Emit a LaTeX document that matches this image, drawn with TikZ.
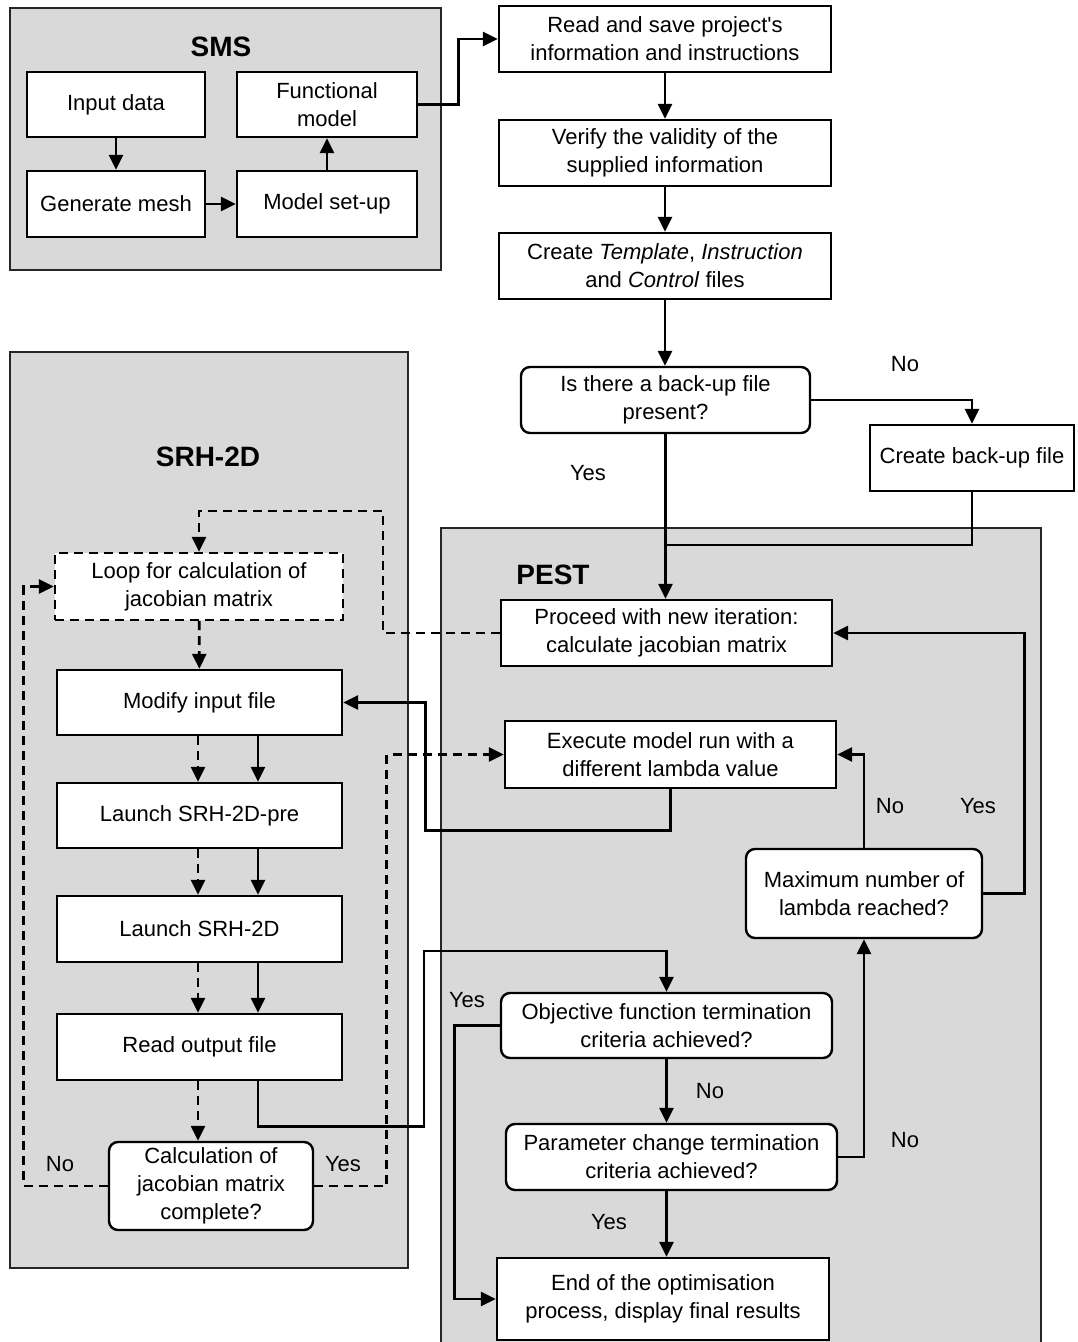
\documentclass[tikz,border=0pt]{standalone}
\usepackage{fontspec}
\setmainfont{Liberation Sans}
\usetikzlibrary{positioning,arrows.meta,shapes}
\tikzset {
    process/.style={
        fill=white,
        draw=black,
        line width=2.4pt,
        rectangle, % Set the shape as a rectangle
        inner sep=0pt,
        align=center,
    },
    decision/.style={
        process,
        rounded corners=9pt,
    },
    loopbox/.style={
        process,
        dash pattern=on 9pt off 6pt,
    },
    group/.style={
        fill=black!15,
        draw=black!85,
        line width=2.4pt,
    },
    title/.style={
        font=\fontsize{28}{32}\selectfont\bfseries,
    },
    flow/.style={
        draw=black,
        line width=2.8pt,
        -{Triangle[length=15pt,width=14pt]},
    },
    dashflow/.style={
        flow,
        dash pattern=on 9pt off 6pt,
    },
    link/.style={
        draw=black,
        line width=2.8pt,
    },
}
\begin{document}
\begin{tikzpicture}[x=1pt, y=-1pt, font=\fontsize{22}{28}\selectfont]
        \useasboundingbox (0,0) rectangle (1077,1342);

        % the three groups
        \draw[group] (10,8) rectangle (441,270);
        \draw[group] (10,352) rectangle (408,1268);
        \draw[group] (441,528) rectangle (1041,1350);
        \node[title] (smstitle) at (221,47) {SMS};
        \node[title] (srhtitle) at (208,457) {SRH-2D};
        \node[title] (pesttitle) at (553,575) {PEST};

        % SMS
        \node[process, minimum width=178pt, minimum height=65pt] (input) at (116,104.5) {Input data};
        \node[process, minimum width=180pt, minimum height=65pt] (func) at (327,104.5) {Functional\\model};
        \node[process, minimum width=178pt, minimum height=66pt] (mesh) at (116,204) {Generate mesh};
        \node[process, minimum width=180pt, minimum height=66pt] (setup) at (327,204) {Model set-up};

        % main column
        \node[process, minimum width=332pt, minimum height=66pt] (read) at (665,39) {Read and save project\textquotesingle s\\information and instructions};
        \node[process, minimum width=332pt, minimum height=66pt] (verify) at (665,153) {Verify the validity of the\\supplied information};
        \node[process, minimum width=332pt, minimum height=66pt] (create) at (665,266) {Create \textit{Template}, \textit{Instruction}\\and \textit{Control} files};
        \node[decision, minimum width=289pt, minimum height=66pt] (backup) at (665.5,400) {Is there a back-up file\\present?};
        \node[process, minimum width=204pt, minimum height=66pt] (mkbackup) at (972,458) {Create back-up file};

        % PEST
        \node[process, minimum width=331pt, minimum height=66pt] (proceed) at (666.5,633) {Proceed with new iteration:\\calculate jacobian matrix};
        \node[process, minimum width=331pt, minimum height=67pt] (execute) at (670.5,754.5) {Execute model run with a\\different lambda value};
        \node[decision, minimum width=236pt, minimum height=89pt] (maxlam) at (864,893.5) {Maximum number of\\lambda reached?};
        \node[decision, minimum width=331pt, minimum height=65pt] (objective) at (666.5,1025.5) {Objective function termination\\criteria achieved?};
        \node[decision, minimum width=331pt, minimum height=66pt] (param) at (671.5,1157) {Parameter change termination\\criteria achieved?};
        \node[process, minimum width=332pt, minimum height=82pt] (endopt) at (663,1299) {End of the optimisation\\process, display final results};

        % SRH-2D
        \node[loopbox, minimum width=288pt, minimum height=67pt] (loop) at (199,586.5) {Loop for calculation of\\jacobian matrix};
        \node[process, minimum width=285pt, minimum height=65pt] (modify) at (199.5,702.5) {Modify input file};
        \node[process, minimum width=285pt, minimum height=65pt] (pre) at (199.5,815.5) {Launch SRH-2D-pre};
        \node[process, minimum width=285pt, minimum height=66pt] (launch) at (199.5,929) {Launch SRH-2D};
        \node[process, minimum width=285pt, minimum height=66pt] (readout) at (199.5,1047) {Read output file};
        \node[decision, minimum width=204pt, minimum height=88pt] (calc) at (211,1186) {Calculation of\\jacobian matrix\\complete?};

        % SMS arrows
        \draw[flow] (input) -- (mesh);
        \draw[flow] (mesh) -- (setup);
        \draw[flow] (setup) -- (func);
        \draw[flow] (func.east) -- ++(40,0) |- (read.west);

        % main column arrows
        \draw[flow] (read) -- (verify);
        \draw[flow] (verify) -- (create);
        \draw[flow] (create) -- (create |- backup.north);
        \draw[flow] (backup.east) -| (mkbackup.north);
        \draw[flow] (backup.south) -- (backup.south |- proceed.north);
        \coordinate (join) at (665.5,545);
        \draw[link] (mkbackup.south) |- (join);
        \node (nobackup) at (905,364) {No};
        \node (yesbackup) at (588,473) {Yes};

        % SRH-2D arrows
        \draw[dashflow] (proceed.west) -| (383,511) -| (loop.north);
        \draw[dashflow] (loop) -- (modify);
        \foreach \a/\b in {modify/pre, pre/launch, launch/readout} {
            \draw[dashflow] ([xshift=-1.5pt]\a.south) -- ([xshift=-1.5pt]\b.north);
            \draw[flow] ([xshift=58.5pt]\a.south) -- ([xshift=58.5pt]\b.north);
        }
        \draw[dashflow] ([xshift=-1.5pt]readout.south) -- ([xshift=-1.5pt]readout.south |- calc.north);
        \draw[dashflow] (calc.west) -| ([xshift=-30pt]loop.west) -- (loop.west);
        \draw[dashflow] (calc.east) -| ([xshift=-117pt]execute.west) -- (execute.west);
        \node (nocalc) at (60,1164) {No};
        \node (yescalc) at (343,1164) {Yes};

        % PEST arrows
        \draw[flow] (execute.south) -- ++(0,41) -| ([xshift=82pt]modify.east) -- (modify.east);
        \draw[flow] ([xshift=58.5pt]readout.south) -- ++(0,45) -| (424,951) -| (objective.north);
        \draw[flow] (objective.south) -- (objective.south |- param.north);
        \draw[flow] (objective.south |- param.south) -- (objective.south |- endopt.north);
        \draw[flow] (objective.west) -| ([xshift=-41pt]endopt.west) -- (endopt.west);
        \draw[flow] (param.east) -| (maxlam.south);
        \draw[flow] (maxlam.north) |- (execute.east);
        \draw[flow] (maxlam.east) -| ([xshift=191pt]proceed.east) -- (proceed.east);
        \node (noobj) at (710,1091) {No};
        \node (yesobj) at (467,1000) {Yes};
        \node (nopar) at (905,1140) {No};
        \node (yespar) at (609,1222) {Yes};
        \node (nomax) at (890,806) {No};
        \node (yesmax) at (978,806) {Yes};

    \end{tikzpicture}
\end{document}
